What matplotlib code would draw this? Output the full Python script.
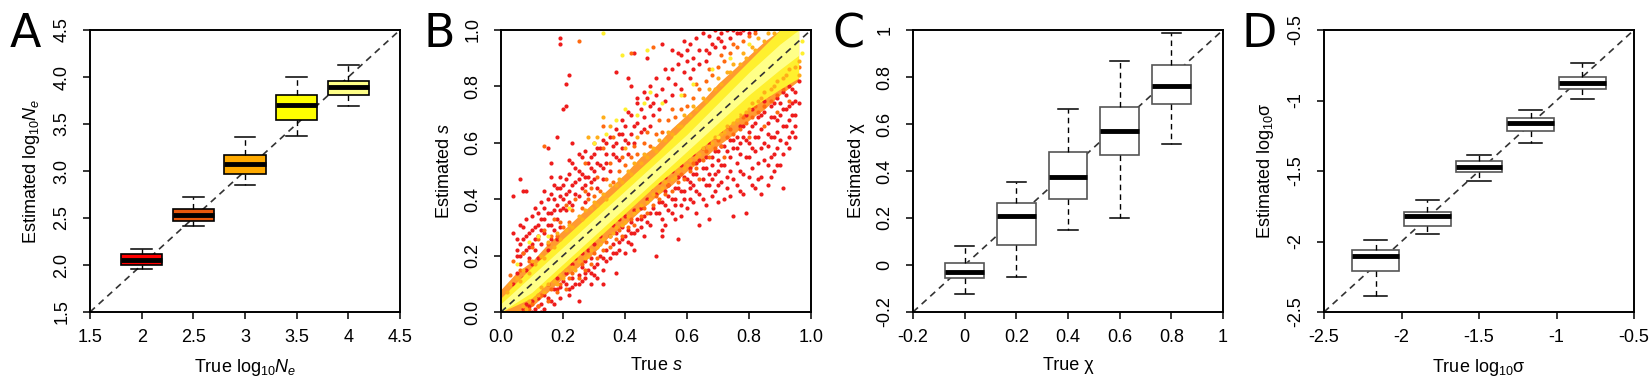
import matplotlib
matplotlib.use('Agg')
import matplotlib.pyplot as plt

plt.rcParams['font.family'] = ['Liberation Sans', 'DejaVu Sans']
plt.rcParams['mathtext.fontset'] = 'custom'
plt.rcParams['mathtext.rm'] = 'Liberation Sans'
plt.rcParams['mathtext.it'] = 'Liberation Sans:italic'

# ---------------- data ----------------
# panel A: boxplots of estimated log10 Ne
a_pos = [2.0, 2.5, 3.0, 3.5, 4.0]
a_whislo = [1.96, 2.42, 2.85, 3.37, 3.69]
a_q1 = [2.00, 2.47, 2.97, 3.54, 3.81]
a_med = [2.055, 2.535, 3.07, 3.70, 3.89]
a_q3 = [2.12, 2.60, 3.165, 3.81, 3.96]
a_whishi = [2.17, 2.725, 3.36, 4.00, 4.13]
a_colors = ['#FF0000', '#E8580C', '#FFAA00', '#FFFF00', '#FFFF88']

# panel C: estimated chi
c_pos = [0.0, 0.2, 0.4, 0.6, 0.8]
c_whislo = [-0.125, -0.05, 0.15, 0.20, 0.513]
c_q1 = [-0.056, 0.083, 0.279, 0.47, 0.683]
c_med = [-0.031, 0.209, 0.375, 0.571, 0.761]
c_q3 = [0.008, 0.265, 0.48, 0.671, 0.853]
c_whishi = [0.079, 0.354, 0.663, 0.867, 0.987]

# panel D: estimated log10 sigma
d_pos = [-2.167, -1.833, -1.5, -1.167, -0.833]
d_whislo = [-2.384, -1.95, -1.57, -1.298, -0.991]
d_q1 = [-2.212, -1.888, -1.508, -1.215, -0.918]
d_med = [-2.106, -1.818, -1.47, -1.161, -0.873]
d_q3 = [-2.063, -1.789, -1.428, -1.126, -0.831]
d_whishi = [-1.988, -1.707, -1.39, -1.067, -0.734]

# panel B: scatter of true vs estimated s (points read off by eye)
red_pts = [
    (0.04,0.10),(0.05,0.14),(0.05,0.20),(0.06,0.17),(0.06,0.24),(0.07,0.12),(0.07,0.21),(0.08,0.15),
    (0.08,0.27),(0.09,0.19),(0.09,0.23),(0.10,0.17),(0.10,0.29),(0.11,0.22),(0.11,0.26),(0.12,0.19),
    (0.12,0.31),(0.06,0.31),(0.04,0.41),(0.06,0.47),(0.07,0.43),(0.08,0.43),(0.03,0.07),(0.09,0.13),
    (0.07,0.01),(0.08,0.03),(0.09,0.02),(0.09,0.06),(0.10,0.04),(0.11,0.01),(0.11,0.07),(0.12,0.05),
    (0.13,0.03),(0.13,0.09),(0.14,0.06),(0.15,0.10),(0.16,0.04),(0.17,0.08),(0.13,0.00),(0.18,0.12),
    (0.19,0.09),(0.20,0.11),
    (0.13,0.24),(0.13,0.33),(0.14,0.28),(0.14,0.37),(0.15,0.22),(0.15,0.31),(0.16,0.26),(0.16,0.35),
    (0.17,0.29),(0.17,0.40),(0.18,0.33),(0.18,0.26),(0.19,0.36),(0.19,0.30),(0.20,0.40),(0.20,0.45),
    (0.16,0.48),(0.18,0.44),(0.14,0.43),(0.15,0.58),(0.16,0.53),(0.18,0.62),(0.19,0.48),(0.20,0.72),
    (0.21,0.73),(0.21,0.81),(0.19,0.97),(0.19,0.95),(0.22,0.84),(0.23,0.60),(0.22,0.54),
    (0.21,0.14),(0.22,0.08),(0.23,0.12),(0.23,0.17),(0.24,0.10),(0.24,0.19),(0.25,0.13),(0.25,0.04),
    (0.26,0.16),(0.26,0.21),(0.27,0.12),(0.27,0.18),(0.28,0.15),(0.28,0.22),(0.29,0.10),(0.29,0.19),
    (0.30,0.16),(0.30,0.24),(0.31,0.12),(0.32,0.20),(0.32,0.27),(0.33,0.15),(0.34,0.22),
    (0.21,0.36),(0.22,0.43),(0.23,0.38),(0.24,0.46),(0.25,0.41),(0.25,0.50),(0.26,0.44),(0.27,0.39),
    (0.27,0.48),(0.28,0.42),(0.28,0.53),(0.29,0.46),(0.30,0.50),(0.30,0.56),(0.26,0.55),(0.31,0.44),
    (0.32,0.52),(0.32,0.58),(0.33,0.47),(0.34,0.56),(0.35,0.50),(0.35,0.62),
    (0.35,0.19),(0.35,0.27),(0.36,0.24),(0.36,0.31),(0.37,0.21),(0.37,0.28),(0.38,0.33),(0.38,0.25),
    (0.39,0.30),(0.39,0.36),(0.40,0.27),(0.40,0.34),(0.41,0.29),(0.41,0.38),(0.42,0.32),(0.42,0.24),
    (0.43,0.36),(0.43,0.28),(0.44,0.33),(0.44,0.40),(0.45,0.30),(0.45,0.37),(0.33,0.10),(0.37,0.14),
    (0.40,0.21),(0.43,0.22),(0.46,0.27),
    (0.36,0.56),(0.37,0.60),(0.38,0.54),(0.38,0.63),(0.39,0.58),(0.40,0.61),(0.40,0.66),(0.41,0.56),
    (0.42,0.63),(0.42,0.70),(0.43,0.60),(0.44,0.67),(0.45,0.64),(0.45,0.72),(0.46,0.69),(0.47,0.76),
    (0.48,0.66),(0.48,0.73),(0.49,0.70),(0.50,0.77),(0.37,0.85),(0.41,0.83),(0.42,0.80),(0.44,0.76),
    (0.47,0.90),(0.43,0.92),(0.52,0.95),
    (0.46,0.34),(0.47,0.40),(0.48,0.31),(0.48,0.44),(0.49,0.37),(0.50,0.42),(0.50,0.20),(0.51,0.35),
    (0.51,0.46),(0.52,0.39),(0.52,0.29),(0.53,0.43),(0.53,0.48),(0.54,0.36),(0.54,0.45),(0.55,0.40),
    (0.55,0.50),(0.56,0.33),(0.56,0.44),(0.57,0.26),(0.57,0.48),(0.58,0.38),(0.58,0.52),(0.59,0.43),
    (0.60,0.47),(0.60,0.55),(0.52,0.27),
    (0.51,0.72),(0.52,0.79),(0.53,0.75),(0.54,0.83),(0.55,0.77),(0.55,0.86),(0.56,0.81),(0.57,0.88),
    (0.58,0.79),(0.58,0.91),(0.59,0.85),(0.60,0.89),(0.61,0.83),(0.61,0.95),(0.62,0.90),(0.63,0.97),
    (0.64,0.93),(0.65,0.99),(0.55,0.93),(0.59,0.96),
    (0.61,0.40),(0.61,0.51),(0.62,0.45),(0.62,0.56),(0.63,0.35),(0.63,0.49),(0.64,0.42),(0.64,0.54),
    (0.65,0.47),(0.65,0.58),(0.66,0.38),(0.66,0.51),(0.67,0.45),(0.67,0.60),(0.68,0.41),(0.68,0.55),
    (0.69,0.49),(0.69,0.62),(0.70,0.45),(0.70,0.57),(0.71,0.52),(0.71,0.64),(0.72,0.40),(0.72,0.59),
    (0.73,0.48),(0.73,0.66),(0.74,0.55),(0.75,0.34),(0.75,0.61),(0.76,0.45),(0.64,0.31),(0.67,0.33),
    (0.66,0.93),(0.67,0.98),(0.68,0.95),(0.69,1.00),(0.70,0.97),(0.71,0.99),(0.72,0.94),(0.73,1.00),
    (0.74,0.97),(0.76,0.99),(0.78,1.00),(0.80,0.99),
    (0.76,0.58),(0.77,0.50),(0.77,0.66),(0.78,0.42),(0.78,0.62),(0.79,0.35),(0.79,0.55),(0.79,0.70),
    (0.80,0.48),(0.80,0.64),(0.81,0.58),(0.81,0.72),(0.82,0.44),(0.82,0.67),(0.83,0.53),(0.83,0.62),
    (0.84,0.70),(0.84,0.48),(0.85,0.60),(0.85,0.75),(0.86,0.52),(0.86,0.67),(0.87,0.62),(0.87,0.73),
    (0.88,0.56),(0.88,0.69),(0.89,0.64),(0.89,0.76),(0.90,0.52),(0.90,0.70),(0.91,0.66),(0.91,0.78),
    (0.92,0.60),(0.92,0.72),(0.93,0.68),(0.93,0.80),(0.94,0.74),(0.94,0.64),(0.95,0.70),(0.95,0.78),
    (0.96,0.82),(0.91,0.44),
    (0.05,0.22),(0.06,0.20),(0.07,0.26),(0.08,0.22),(0.09,0.28),(0.10,0.24),(0.11,0.30),(0.12,0.27),
    (0.13,0.29),(0.14,0.33),(0.15,0.35),(0.16,0.31),(0.17,0.36),(0.18,0.38),(0.19,0.41),(0.20,0.37),
    (0.21,0.42),(0.22,0.39),(0.23,0.45),(0.24,0.42),(0.25,0.47),(0.26,0.49),(0.27,0.45),(0.28,0.48),
    (0.29,0.51),(0.30,0.47),(0.31,0.53),(0.33,0.51),(0.34,0.53),(0.36,0.59),(0.37,0.55),(0.39,0.63),
    (0.41,0.60),(0.43,0.66),(0.46,0.65),(0.49,0.74),
    (0.10,0.00),(0.12,0.02),(0.14,0.01),(0.15,0.05),(0.17,0.03),(0.18,0.08),(0.19,0.05),(0.21,0.10),
    (0.22,0.06),(0.23,0.09),(0.25,0.10),(0.26,0.11),(0.27,0.14),(0.29,0.14),(0.30,0.13),(0.31,0.17),
    (0.33,0.19),(0.34,0.18),(0.36,0.21),(0.38,0.22),(0.39,0.26),(0.41,0.25),(0.42,0.28),(0.44,0.29),
    (0.45,0.33),(0.47,0.32),(0.48,0.35),(0.50,0.35),(0.51,0.39),(0.53,0.38),(0.54,0.41),(0.56,0.40),
    (0.57,0.44),(0.58,0.43),(0.59,0.48),(0.61,0.46),(0.62,0.49),(0.63,0.53),(0.65,0.51),(0.66,0.55),
    (0.68,0.52),(0.69,0.57),(0.70,0.54),(0.71,0.59),(0.73,0.57),(0.74,0.61),(0.75,0.58),(0.76,0.62),
    (0.77,0.60),(0.78,0.66),(0.80,0.60),(0.81,0.66),(0.82,0.62),(0.83,0.69),(0.84,0.65),(0.85,0.71),
    (0.86,0.63),(0.87,0.69),(0.88,0.74),(0.89,0.68),(0.90,0.74),(0.91,0.72),(0.92,0.77),(0.93,0.73),
    (0.94,0.79),(0.95,0.75),
    (0.62,0.86),(0.64,0.88),(0.66,0.89),(0.67,0.92),(0.69,0.94),(0.71,0.96),(0.75,1.00),(0.77,0.99),
    (0.82,1.00),
    (0.52,0.33),(0.53,0.31),(0.55,0.35),(0.56,0.38),(0.58,0.34),(0.59,0.40),(0.60,0.37),(0.61,0.44),
    (0.62,0.39),(0.63,0.43),(0.65,0.40),(0.66,0.45),(0.67,0.49),(0.68,0.47),(0.69,0.43),(0.70,0.50),
    (0.71,0.46),(0.72,0.52),(0.73,0.44),(0.74,0.50),(0.75,0.47),(0.76,0.53),(0.77,0.56),(0.78,0.49),
    (0.79,0.61),(0.80,0.55),(0.81,0.51),(0.82,0.57),(0.83,0.47),(0.84,0.58),(0.85,0.54),(0.86,0.59),
    (0.87,0.55),(0.88,0.62),(0.89,0.58),(0.90,0.61),(0.91,0.56),(0.92,0.66),(0.93,0.62),(0.94,0.70),
    (0.95,0.66),(0.96,0.74),(0.87,0.48),(0.89,0.52),(0.93,0.58),(0.95,0.62),(0.81,0.45),(0.84,0.42),
    (0.77,0.43),(0.74,0.41),(0.70,0.39),(0.86,0.45),(0.88,0.50),
    (0.04,0.28),(0.05,0.26),(0.07,0.30),(0.08,0.33),(0.10,0.34),(0.11,0.37),(0.12,0.35),(0.13,0.39),
    (0.15,0.40),(0.16,0.42),(0.17,0.45),(0.19,0.44),(0.21,0.47),(0.22,0.49),(0.24,0.51),(0.23,0.53),
    (0.25,0.56),(0.27,0.57),(0.29,0.55),(0.31,0.58),(0.33,0.61),(0.34,0.60),(0.37,0.65),(0.39,0.68),
    (0.41,0.71),(0.44,0.74),(0.46,0.78),(0.48,0.80),(0.50,0.83),(0.53,0.86),(0.57,0.92),(0.60,0.93),
]
dkorange_pts = [
    (0.03,0.13),(0.04,0.18),(0.05,0.09),(0.06,0.15),(0.07,0.21),(0.08,0.11),(0.09,0.18),(0.10,0.23),
    (0.11,0.15),(0.12,0.26),(0.13,0.19),(0.14,0.29),(0.15,0.24),(0.16,0.27),(0.17,0.33),(0.18,0.27),
    (0.19,0.32),(0.20,0.30),(0.21,0.38),(0.22,0.32),(0.23,0.36),(0.24,0.40),(0.26,0.37),(0.27,0.43),
    (0.28,0.40),(0.29,0.44),(0.30,0.41),(0.31,0.48),(0.32,0.43),(0.34,0.47),(0.35,0.53),(0.36,0.46),
    (0.38,0.50),(0.39,0.55),(0.40,0.52),(0.42,0.55),(0.43,0.59),(0.44,0.56),(0.46,0.60),(0.47,0.64),
    (0.48,0.59),(0.50,0.63),(0.51,0.68),(0.52,0.64),(0.54,0.68),(0.55,0.72),(0.56,0.69),(0.58,0.72),
    (0.59,0.77),(0.60,0.73),(0.62,0.76),(0.63,0.81),(0.64,0.79),(0.66,0.82),(0.67,0.86),(0.68,0.84),
    (0.70,0.87),(0.71,0.91),(0.72,0.89),(0.74,0.92),(0.75,0.95),(0.76,0.94),(0.78,0.96),(0.80,0.98),
    (0.82,0.99),(0.25,0.96),(0.42,0.92),(0.49,0.94),(0.14,0.59),(0.27,0.53),(0.33,0.58),(0.30,0.60),
    (0.36,0.62),(0.33,0.66),
    (0.07,0.00),(0.09,0.01),(0.10,0.03),(0.12,0.02),(0.13,0.06),(0.15,0.04),(0.16,0.08),(0.18,0.07),
    (0.19,0.10),(0.21,0.08),(0.22,0.12),(0.23,0.14),(0.25,0.12),(0.26,0.17),(0.27,0.15),(0.29,0.17),
    (0.30,0.21),(0.31,0.19),(0.33,0.22),(0.34,0.25),(0.35,0.23),(0.37,0.26),(0.38,0.29),(0.39,0.27),
    (0.41,0.30),(0.42,0.33),(0.43,0.31),(0.45,0.34),(0.46,0.37),(0.47,0.35),(0.49,0.38),(0.50,0.41),
    (0.51,0.40),(0.53,0.42),(0.54,0.45),(0.55,0.43),(0.57,0.46),(0.58,0.49),(0.59,0.47),(0.61,0.50),
    (0.62,0.53),(0.63,0.51),(0.65,0.54),(0.66,0.57),(0.67,0.55),(0.69,0.58),(0.70,0.61),(0.71,0.59),
    (0.73,0.62),(0.74,0.65),(0.75,0.63),(0.77,0.65),(0.78,0.69),(0.79,0.67),(0.81,0.69),(0.82,0.73),
    (0.83,0.71),(0.85,0.73),(0.86,0.77),(0.87,0.75),(0.89,0.77),(0.90,0.81),(0.91,0.79),(0.93,0.82),
    (0.94,0.86),(0.95,0.84),(0.96,0.87),(0.85,0.66),(0.89,0.71),(0.93,0.75),(0.80,0.62),(0.72,0.55),
    (0.64,0.47),
]
orange_pts = [
    (0.02,0.07),(0.03,0.10),(0.05,0.12),(0.06,0.11),(0.07,0.15),(0.09,0.14),(0.10,0.18),(0.11,0.17),
    (0.13,0.20),(0.14,0.19),(0.15,0.25),(0.17,0.23),(0.18,0.28),(0.19,0.26),(0.21,0.29),(0.22,0.31),
    (0.23,0.30),(0.25,0.34),(0.26,0.33),(0.27,0.36),(0.29,0.37),(0.30,0.39),(0.31,0.38),(0.33,0.42),
    (0.34,0.40),(0.35,0.45),(0.37,0.45),(0.38,0.47),(0.39,0.46),(0.41,0.50),(0.42,0.49),(0.43,0.53),
    (0.45,0.53),(0.46,0.56),(0.47,0.55),(0.49,0.58),(0.50,0.57),(0.51,0.61),(0.53,0.61),(0.54,0.64),
    (0.55,0.63),(0.57,0.66),(0.58,0.66),(0.59,0.70),(0.61,0.70),(0.62,0.73),(0.63,0.72),(0.65,0.76),
    (0.66,0.75),(0.67,0.79),(0.69,0.79),(0.70,0.83),(0.71,0.81),(0.73,0.85),(0.74,0.85),(0.75,0.88),
    (0.77,0.88),(0.78,0.92),(0.79,0.90),(0.81,0.94),(0.82,0.93),(0.83,0.97),(0.85,0.96),(0.86,0.99),
    (0.88,0.99),(0.35,0.66),(0.31,0.62),(0.28,0.62),(0.33,0.69),(0.40,0.58),(0.44,0.62),
    (0.05,0.00),(0.07,0.02),(0.08,0.01),(0.09,0.04),(0.11,0.05),(0.12,0.06),(0.13,0.09),(0.14,0.07),
    (0.15,0.10),(0.17,0.11),(0.18,0.10),(0.19,0.13),(0.20,0.12),(0.21,0.15),(0.23,0.16),(0.24,0.15),
    (0.25,0.18),(0.27,0.19),(0.28,0.20),(0.29,0.22),(0.31,0.23),(0.32,0.24),(0.33,0.26),(0.35,0.27),
    (0.36,0.28),(0.37,0.30),(0.39,0.31),(0.40,0.32),(0.41,0.34),(0.43,0.35),(0.44,0.36),(0.45,0.38),
    (0.47,0.39),(0.48,0.40),(0.49,0.42),(0.51,0.43),(0.52,0.44),(0.53,0.46),(0.55,0.47),(0.56,0.48),
    (0.57,0.50),(0.59,0.51),(0.60,0.52),(0.61,0.54),(0.63,0.55),(0.64,0.56),(0.65,0.58),(0.67,0.59),
    (0.68,0.60),(0.69,0.62),(0.71,0.63),(0.72,0.64),(0.73,0.66),(0.75,0.67),(0.76,0.68),(0.77,0.70),
    (0.79,0.71),(0.80,0.72),(0.81,0.74),(0.83,0.75),(0.84,0.76),(0.85,0.78),(0.87,0.79),(0.88,0.80),
    (0.89,0.82),(0.91,0.83),(0.92,0.84),(0.93,0.86),(0.95,0.87),(0.96,0.89),(0.96,0.84),
]
yellow_pts = [
    (0.33,0.99),(0.39,0.91),(0.47,0.93),(0.48,0.78),(0.40,0.72),(0.37,0.68),(0.30,0.60),(0.34,0.63),
    (0.46,0.74),(0.44,0.70),(0.52,0.74),(0.58,0.77),(0.62,0.81),(0.68,0.86),(0.74,0.90),(0.80,0.95),
    (0.12,0.27),(0.15,0.27),(0.22,0.37),(0.05,0.17),(0.09,0.25),(0.97,0.92),(0.97,0.96),
    (0.56,0.62),(0.60,0.66),(0.66,0.70),(0.72,0.76),(0.78,0.82),(0.84,0.88),(0.88,0.91),(0.92,0.94),
    (0.70,0.62),(0.76,0.70),(0.82,0.76),(0.86,0.80),(0.90,0.85),(0.94,0.88),
]
halo_x = [0.0, 0.05, 0.1, 0.15, 0.2, 0.25, 0.3, 0.35, 0.4, 0.45, 0.5,
          0.55, 0.6, 0.65, 0.7, 0.75, 0.8, 0.85, 0.9, 0.96]
halo_lo = [0.0, 0.0, 0.02, 0.07, 0.12, 0.16, 0.21, 0.27, 0.31, 0.36, 0.41,
           0.45, 0.50, 0.54, 0.59, 0.63, 0.68, 0.72, 0.77, 0.82]
halo_hi = [0.08, 0.14, 0.18, 0.24, 0.29, 0.34, 0.39, 0.44, 0.49, 0.55, 0.59,
           0.65, 0.70, 0.75, 0.81, 0.86, 0.91, 0.96, 1.0, 1.0]
band_x = [0.0, 0.1, 0.2, 0.3, 0.4, 0.5, 0.6, 0.7, 0.8, 0.9, 0.96]
band_lo = [0.0, 0.05, 0.15, 0.25, 0.35, 0.45, 0.54, 0.63, 0.72, 0.79, 0.83]
band_hi = [0.05, 0.16, 0.26, 0.36, 0.46, 0.56, 0.67, 0.78, 0.89, 1.0, 1.0]
core_lo = [0.0, 0.07, 0.17, 0.27, 0.37, 0.47, 0.57, 0.67, 0.77, 0.86, 0.91]
core_hi = [0.03, 0.13, 0.23, 0.33, 0.43, 0.53, 0.63, 0.74, 0.85, 0.95, 1.0]


def box_stats(pos, lo, q1, med, q3, hi):
    return [dict(whislo=a, q1=b, med=c, q3=d, whishi=e, fliers=[])
            for a, b, c, d, e in zip(lo, q1, med, q3, hi)]


def style_axes(ax, lim, ticks, xlabels, ylabels):
    ax.set_xlim(lim)
    ax.set_ylim(lim)
    ax.set_xticks(ticks)
    ax.set_yticks(ticks)
    ax.set_xticklabels(xlabels)
    ax.set_yticklabels(ylabels, rotation=90, va='center')
    ax.tick_params(direction='out', length=5, width=1.1, labelsize=13)
    ax.tick_params(axis='x', pad=7)
    ax.tick_params(axis='y', pad=9)
    for s in ax.spines.values():
        s.set_linewidth(1.4)
        s.set_zorder(6)
    ax.plot(lim, lim, ls=(0, (4, 3)), color='#333333', lw=1.2, zorder=5)


def draw_boxes(ax, stats, pos, width, faces, edge):
    b = ax.bxp(stats, positions=pos, widths=width, patch_artist=True,
               showfliers=False, manage_ticks=False,
               boxprops=dict(edgecolor=edge, linewidth=1.2),
               medianprops=dict(color='black', linewidth=3.5),
               whiskerprops=dict(color='black', linewidth=1, linestyle=(0, (4, 3))),
               capprops=dict(color='black', linewidth=1.1),
               capwidths=width * 0.5)
    for p, f in zip(b['boxes'], faces):
        p.set_facecolor(f)
        p.set_zorder(6)
    for k in ['medians', 'whiskers', 'caps']:
        for l in b[k]:
            l.set_zorder(7)


fig = plt.figure(figsize=(16.52, 3.91), dpi=100)
W, H = 1652.0, 391.0
lefts = [90, 501, 913, 1324]
axes = [fig.add_axes([l / W, 79 / H, 310 / W, 282 / H]) for l in lefts]

# A
ax = axes[0]
style_axes(ax, (1.5, 4.5), [1.5, 2, 2.5, 3, 3.5, 4, 4.5],
           ['1.5', '2', '2.5', '3', '3.5', '4', '4.5'],
           ['1.5', '2.0', '2.5', '3.0', '3.5', '4.0', '4.5'])
draw_boxes(ax, box_stats(a_pos, a_whislo, a_q1, a_med, a_q3, a_whishi),
           a_pos, 0.4, a_colors, 'black')
ax.set_xlabel('True log$_{10}$$N_e$', fontsize=13, labelpad=8)
ax.set_ylabel('Estimated log$_{10}$$N_e$', fontsize=13, labelpad=8)

# B
ax = axes[1]
style_axes(ax, (0, 1), [0, 0.2, 0.4, 0.6, 0.8, 1.0],
           ['0.0', '0.2', '0.4', '0.6', '0.8', '1.0'],
           ['0.0', '0.2', '0.4', '0.6', '0.8', '1.0'])
ax.fill_between(halo_x, halo_lo, halo_hi, color='#FF9A30', lw=0, zorder=1.1)
layers = [(red_pts, '#EE1C1C', 1.3), (dkorange_pts, '#FF6A10', 1.35),
          (orange_pts, '#FFAE1A', 1.5), (yellow_pts, '#FFEF30', 1.55)]
ax.fill_between(band_x, band_lo, band_hi, color='#FFF02E', lw=0, zorder=1.4)
for pts, col, z in layers:
    ax.scatter([p[0] for p in pts], [p[1] for p in pts], s=9, color=col,
               linewidths=0, zorder=z)
ax.fill_between(band_x, core_lo, core_hi, color='#FFFF88', lw=0, zorder=1.8)
ax.set_xlabel('True $s$', fontsize=13, labelpad=8)
ax.set_ylabel('Estimated $s$', fontsize=13, labelpad=8)

# C
ax = axes[2]
style_axes(ax, (-0.2, 1), [-0.2, 0, 0.2, 0.4, 0.6, 0.8, 1],
           ['-0.2', '0', '0.2', '0.4', '0.6', '0.8', '1'],
           ['-0.2', '0', '0.2', '0.4', '0.6', '0.8', '1'])
draw_boxes(ax, box_stats(c_pos, c_whislo, c_q1, c_med, c_q3, c_whishi),
           c_pos, 0.15, ['white'] * 5, '#555555')
ax.set_xlabel('True χ', fontsize=13, labelpad=8)
ax.set_ylabel('Estimated χ', fontsize=13, labelpad=8)

# D
ax = axes[3]
style_axes(ax, (-2.5, -0.5), [-2.5, -2, -1.5, -1, -0.5],
           ['-2.5', '-2', '-1.5', '-1', '-0.5'],
           ['-2.5', '-2', '-1.5', '-1', '-0.5'])
draw_boxes(ax, box_stats(d_pos, d_whislo, d_q1, d_med, d_q3, d_whishi),
           d_pos, 0.3, ['white'] * 5, '#555555')
ax.set_xlabel('True log$_{10}$σ', fontsize=13, labelpad=8)
ax.set_ylabel('Estimated log$_{10}$σ', fontsize=13, labelpad=8)

# panel letters
for x, letter in zip([10, 423, 832, 1242], 'ABCD'):
    fig.text(x / W, 1 - 47 / H, letter, fontsize=33, family='DejaVu Sans',
             ha='left', va='baseline')

fig.savefig('out.png', dpi=100)
